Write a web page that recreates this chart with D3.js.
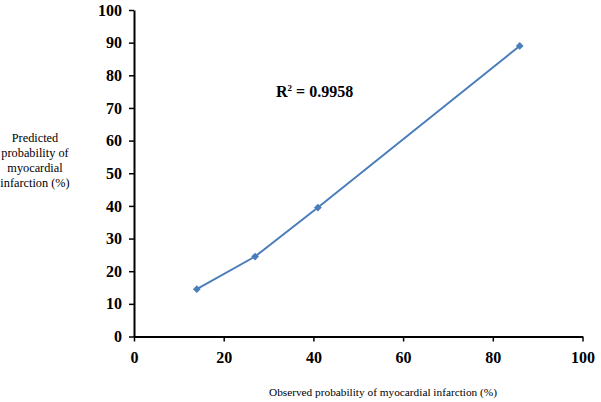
<!DOCTYPE html>
<html>
<head>
<meta charset="utf-8">
<script src="https://cdn.jsdelivr.net/npm/d3@7"></script>
<style>
  body { margin: 0; background: #fff; }
  svg { display: block; font-family: "Liberation Serif", "Times New Roman", serif; }
</style>
</head>
<body>
<svg id="chart"></svg>
<script>
var width = 601;
var height = 402;

// data
var observed = [14, 27, 41, 86];
var predicted = [14.5, 24.5, 39.5, 89];
var xTicks = [0, 20, 40, 60, 80, 100];
var yTicks = [0, 10, 20, 30, 40, 50, 60, 70, 80, 90, 100];
var rSquared = "0.9958";

var svg = d3.select("#chart").attr("width", width).attr("height", height);

var x = d3.scaleLinear().domain([0, 100]).range([134, 582.5]);
var y = d3.scaleLinear().domain([0, 100]).range([336.5, 10]);

var xAxis = svg.append("g")
    .attr("transform", "translate(0," + y(0) + ")")
    .call(d3.axisBottom(x).tickValues(xTicks).tickSize(5).tickPadding(7).tickSizeOuter(0));
var yAxis = svg.append("g")
    .attr("transform", "translate(" + x(0) + ",0)")
    .call(d3.axisLeft(y).tickValues(yTicks).tickSize(5).tickPadding(7).tickSizeOuter(0));

[xAxis, yAxis].forEach(function (a) {
    a.select(".domain").attr("stroke", "#000").attr("stroke-width", 2);
    a.selectAll(".tick line").attr("stroke", "#000").attr("stroke-width", 1.5);
    a.selectAll(".tick text")
        .attr("fill", "#000")
        .style("font-family", "Liberation Serif, serif")
        .style("font-weight", "bold")
        .style("font-size", "16px");
});
xAxis.selectAll(".tick text").attr("dy", "0.9em");

var pts = observed.map(function (d, i) { return [d, predicted[i]]; });

svg.append("path")
    .datum(pts)
    .attr("fill", "none")
    .attr("stroke", "#4a7ebb")
    .attr("stroke-width", 2)
    .attr("d", d3.line()
        .x(function (d) { return x(d[0]); })
        .y(function (d) { return y(d[1]); }));

svg.selectAll(".pt")
    .data(pts)
    .enter()
    .append("path")
    .attr("class", "pt")
    .attr("transform", function (d) { return "translate(" + x(d[0]) + "," + y(d[1]) + ") rotate(45)"; })
    .attr("d", d3.symbol().type(d3.symbolSquare).size(30))
    .attr("fill", "#4a7ebb");

// R squared annotation
var rt = svg.append("text")
    .attr("x", 276)
    .attr("y", 97)
    .style("font-weight", "bold")
    .style("font-size", "16px")
    .attr("fill", "#000");
rt.append("tspan").text("R");
rt.append("tspan").text("2").style("font-size", "9px").attr("dy", "-6");
rt.append("tspan").text(" = " + rSquared).attr("dy", "6");

// axis titles
svg.append("text")
    .attr("x", 383)
    .attr("y", 396)
    .attr("text-anchor", "middle")
    .style("font-size", "11.3px")
    .text("Observed probability of myocardial infarction (%)");

var yTitle = ["Predicted", "probability of", "myocardial", "infarction (%)"];
svg.append("g").selectAll("text")
    .data(yTitle)
    .enter()
    .append("text")
    .attr("x", 35)
    .attr("y", function (d, i) { return 142 + i * 15; })
    .attr("text-anchor", "middle")
    .style("font-size", "12.3px")
    .text(function (d) { return d; });
</script>
</body>
</html>
